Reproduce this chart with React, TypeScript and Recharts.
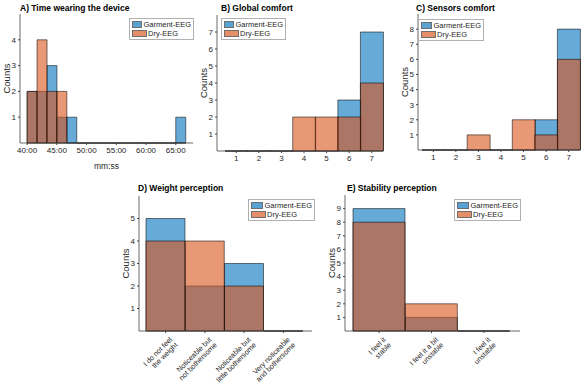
import React from 'react'
import { BarChart, Bar, XAxis, YAxis, Legend, Rectangle } from 'recharts'

const FONT = '"Liberation Sans", Arial, sans-serif'
const INK = '#262626'

const SERIES = [
  { key: 'garment', name: 'Garment-EEG', color: '#0072BD' },
  { key: 'dry', name: 'Dry-EEG', color: '#D95319' },
]

// A) histogram of wearing time, bins of 1:40 (bin start, mm:ss)
const timeBinStarts = ['40:00', '41:40', '43:20', '45:00', '46:40', '48:20', '50:00', '51:40',
  '53:20', '55:00', '56:40', '58:20', '60:00', '61:40', '63:20', '65:00']
const timeGarment = [2, 2, 3, 1, 1, 0, 0, 0, 0, 0, 0, 0, 0, 0, 0, 1]
const timeDry = [2, 4, 2, 2, 0, 0, 0, 0, 0, 0, 0, 0, 0, 0, 0, 0]
const timeTicks = [40, 45, 50, 55, 60, 65]

// B, C) 1-7 rating
const likertCats = ['1', '2', '3', '4', '5', '6', '7']
const globalGarment = [0, 0, 0, 0, 0, 3, 7]
const globalDry = [0, 0, 0, 2, 2, 2, 4]
const sensorsGarment = [0, 0, 0, 0, 0, 2, 8]
const sensorsDry = [0, 0, 1, 0, 2, 1, 6]

// D) weight
const weightCats = ['I do not feel\nthe weight', 'Noticeable but\nnot bothersome',
  'Noticeable but\nlittle bothersome', 'Very noticeable\nand bothersome']
const weightGarment = [5, 2, 3, 0]
const weightDry = [4, 4, 2, 0]

// E) stability
const stabilityCats = ['I feel it\nstable', 'I feel it a bit\nunstable', 'I feel it\nunstable']
const stabilityGarment = [9, 1, 0]
const stabilityDry = [8, 2, 0]

const toMin = (s: string) => {
  const [m, sec] = s.split(':').map(Number)
  return m + sec / 60
}
const fmtMin = (v: number) => {
  const m = Math.floor(v)
  const s = Math.round((v - m) * 60)
  return `${m}:${String(s).padStart(2, '0')}`
}

const rows = (cats: string[], g: number[], d: number[]) =>
  cats.map((c, i) => ({ cat: c, garment: g[i], dry: d[i] }))

const timeRows = timeBinStarts.map((s, i) => ({
  x: toMin(s) + 50 / 60, // bin centre
  garment: timeGarment[i],
  dry: timeDry[i],
}))

const YW = 20
const MT = 4
const MR = 4

function SlantTick({ x, y, payload }: any) {
  const lines = String(payload.value).split('\n')
  return (
    <g transform={`translate(${x + 3},${y + 1}) rotate(-45)`}>
      <text textAnchor="end" fontSize={7.2} fill={INK} fontFamily={FONT}>
        {lines.map((l, i) => (
          <tspan key={i} x={0} dy={i === 0 ? '0.8em' : '1.05em'}>{l}</tspan>
        ))}
      </text>
    </g>
  )
}

// matlab draws empty bins as a flat edge on the baseline
const histShape = (props: any) => {
  const { x, y, width, height } = props
  if (!height) {
    return <line x1={x} x2={x + width} y1={y} y2={y} stroke="#222" strokeWidth={1} />
  }
  return <Rectangle {...props} />
}

const legendBox = () => (
  <div style={{ border: '1px solid #b0b0b0', background: '#fff', padding: '1px 2px', fontSize: 7.5,
    lineHeight: '9px', color: INK, fontFamily: FONT }}>
    {SERIES.map((s) => (
      <div key={s.key} style={{ display: 'flex', alignItems: 'center', whiteSpace: 'nowrap' }}>
        <span style={{ display: 'inline-block', width: 15, height: 7, background: s.color, opacity: 0.65,
          border: '1px solid #222', boxSizing: 'border-box', marginRight: 1 }} />
        {s.name}
      </div>
    ))}
  </div>
)

const countsLabel = (props: any) => {
  const vb = props.viewBox
  const cx = vb.x + vb.width - 14
  const cy = vb.y + vb.height / 2
  return (
    <text x={cx} y={cy} transform={`rotate(-90 ${cx} ${cy})`} textAnchor="middle" dominantBaseline="central"
      fontSize={9.5} fill={INK} fontFamily={FONT}>Counts</text>
  )
}

type PanelProps = {
  title: string
  titlePos: [number, number]
  x: number
  y: number
  w: number
  h: number
  xHeight: number
  data: any[]
  yMax: number
  yTicks: number[]
  legend: [number, number, number]
  numeric?: boolean
  pad?: { left: number; right: number }
  slant?: boolean
  xLabel?: string
}

function Panel(p: PanelProps) {
  const left = p.x - YW
  const top = p.y - MT
  const width = YW + p.w + MR
  const height = MT + p.h + p.xHeight + 2
  const tickStyle = { fontSize: 8, fill: INK, fontFamily: FONT }
  const axisLine = { stroke: '#444', strokeWidth: 0.8 }

  const xCommon: any = p.numeric
    ? { type: 'number', dataKey: 'x', domain: [38.8, 67.9], allowDataOverflow: true, ticks: timeTicks, tickFormatter: fmtMin }
    : { type: 'category', dataKey: 'cat', padding: p.pad }

  return (
    <>
      <div style={{ position: 'absolute', left: p.titlePos[0], top: p.titlePos[1] - 6, lineHeight: '12px',
        fontSize: 8.5, fontWeight: 'bold', fontFamily: FONT, color: '#000', whiteSpace: 'nowrap' }}>
        {p.title}
      </div>
      <div style={{ position: 'absolute', left, top }}>
        <BarChart width={width} height={height} data={p.data} barCategoryGap={0} barGap={0}
          margin={{ top: MT, right: MR, bottom: 2, left: 0 }}>
          {/* second (hidden) axis only lets the two series overlap */}
          <XAxis xAxisId="d" {...xCommon} orientation="top" height={0} hide />
          <XAxis xAxisId="g" {...xCommon} height={p.xHeight} interval={0}
            tick={p.slant ? <SlantTick /> : tickStyle} tickSize={2} tickMargin={2}
            axisLine={axisLine} tickLine={{ stroke: '#444' }}
            label={p.xLabel ? { value: p.xLabel, position: 'insideBottom', offset: 0, fontSize: 8.5, fill: INK, fontFamily: FONT } : undefined} />
          <YAxis type="number" domain={[0, p.yMax]} ticks={p.yTicks} width={YW} interval={0}
            tick={tickStyle} tickSize={2} tickMargin={2} axisLine={axisLine} tickLine={{ stroke: '#444' }}
            label={countsLabel} />
          <Legend content={legendBox} layout="vertical" align="center" verticalAlign="middle"
            wrapperStyle={{ left: p.legend[0] - left, top: p.legend[1] - top, width: p.legend[2] }} />
          <Bar xAxisId="g" dataKey="garment" name={SERIES[0].name} fill={SERIES[0].color} fillOpacity={0.6}
            stroke="#000" strokeOpacity={0.75} strokeWidth={0.7} shape={histShape} isAnimationActive={false} />
          <Bar xAxisId="d" dataKey="dry" name={SERIES[1].name} fill={SERIES[1].color} fillOpacity={0.6}
            stroke="#000" strokeOpacity={0.75} strokeWidth={0.7} shape={histShape} isAnimationActive={false} />
        </BarChart>
      </div>
    </>
  )
}

export default function App() {
  return (
    <div style={{ position: 'absolute', left: 0, top: 0, width: 585, height: 384, background: '#fff', overflow: 'hidden' }}>
      <Panel title="A) Time wearing the device" titlePos={[20, 8]} x={20} y={14} w={173} h={129}
        xHeight={26} data={timeRows} yMax={5} yTicks={[1, 2, 3, 4]} legend={[129, 18, 65]} numeric xLabel="mm:ss" />
      <Panel title="B) Global comfort" titlePos={[221, 8]} x={217} y={15} w={166} h={136}
        xHeight={16} data={rows(likertCats, globalGarment, globalDry)} yMax={8} yTicks={[1, 2, 3, 4, 5, 6, 7]}
        legend={[221, 18, 65]} pad={{ left: 8, right: 0 }} />
      <Panel title="C) Sensors comfort" titlePos={[416, 8]} x={418} y={14} w={162} h={136}
        xHeight={16} data={rows(likertCats, sensorsGarment, sensorsDry)} yMax={9} yTicks={[1, 2, 3, 4, 5, 6, 7, 8]}
        legend={[418, 19, 66]} pad={{ left: 4, right: 0 }} />
      <Panel title="D) Weight perception" titlePos={[138, 188]} x={139} y={196} w={173} h={135}
        xHeight={55} data={rows(weightCats, weightGarment, weightDry)} yMax={6} yTicks={[1, 2, 3, 4, 5]}
        legend={[248, 199, 67]} pad={{ left: 7, right: 9 }} slant />
      <Panel title="E) Stability perception" titlePos={[347, 188]} x={345} y={195} w={175} h={136}
        xHeight={55} data={rows(stabilityCats, stabilityGarment, stabilityDry)} yMax={10}
        yTicks={[1, 2, 3, 4, 5, 6, 7, 8, 9]} legend={[454, 199, 67]} pad={{ left: 8, right: 10 }} slant />
    </div>
  )
}
